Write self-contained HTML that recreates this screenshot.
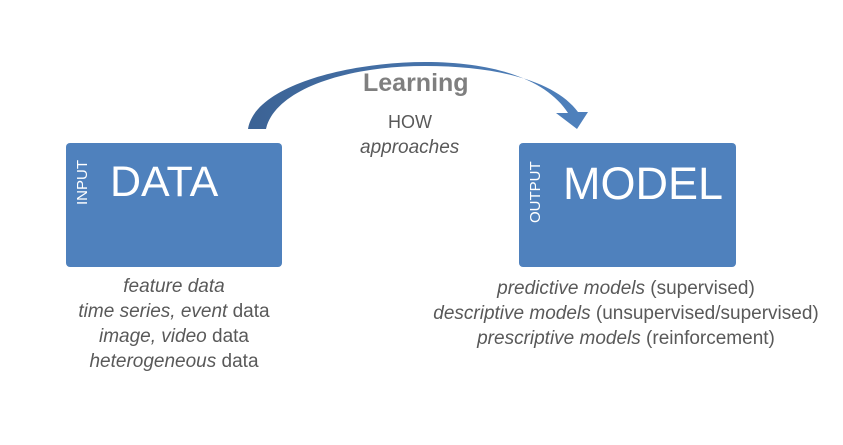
<!DOCTYPE html>
<html><head><style>
body{margin:0;width:843px;height:445px;background:#fff;position:relative;font-family:"Liberation Sans",sans-serif;overflow:hidden}
.box{position:absolute;background:#4f81bd;border-radius:4px;color:#fff}
.t{position:absolute;color:#595959;font-size:19px;text-align:center;white-space:nowrap}
i{font-style:italic}
.side{position:absolute;font-size:15px;transform:rotate(-90deg);transform-origin:left top;color:#fff}
</style></head><body>
<svg width="843" height="445" style="position:absolute;left:0;top:0">
<defs><linearGradient id="g" x1="0" x2="1"><stop offset="0" stop-color="#3c6395"/><stop offset="1" stop-color="#4f81bd"/></linearGradient></defs>
<path d="M248,129 C255,85 350,62 425,62 C500,62 548,82 568,113 L556,113 L577,129 L588,112 L578,112 C556,82 500,66 425,66 C345,66 275,90 266,129 Z" fill="url(#g)"/>
</svg>
<div class="box" style="left:66px;top:143px;width:216px;height:124px">
<div style="position:absolute;left:44px;top:15px;font-size:43px">DATA</div>
<div class="side" style="left:8px;top:62px">INPUT</div>
</div>
<div class="box" style="left:519px;top:143px;width:217px;height:124px">
<div style="position:absolute;left:44px;top:15px;font-size:45px">MODEL</div>
<div class="side" style="left:8px;top:80px">OUTPUT</div>
</div>
<div class="t" style="left:363px;top:69px;font-size:25px;font-weight:bold;color:#7f7f7f">Learning</div>
<div class="t" style="left:388px;top:112px;font-size:18px">HOW</div>
<div class="t" style="left:360px;top:137px"><i>approaches</i></div>
<div class="t" style="left:66px;top:274px;width:216px;line-height:25px"><i>feature data</i><br><i>time series, event</i> data<br><i>image, video</i> data<br><i>heterogeneous</i> data</div>
<div class="t" style="left:420px;top:276px;width:412px;line-height:25px"><i>predictive models</i> (supervised)<br><i>descriptive models</i> (unsupervised/supervised)<br><i>prescriptive models</i> (reinforcement)</div>
</body></html>
